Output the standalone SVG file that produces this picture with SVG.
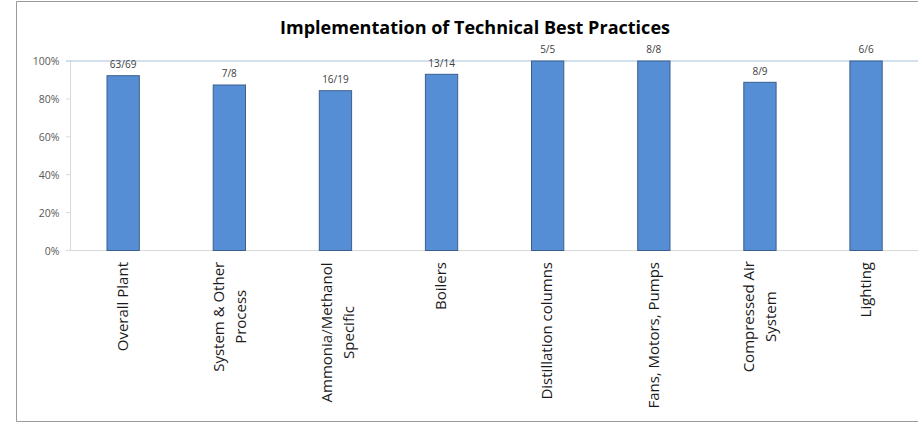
<svg xmlns="http://www.w3.org/2000/svg" width="918" height="423" viewBox="0 0 918 423">
<style>
.frame{fill:none;stroke:#9a9a9a;stroke-width:1}
.bar{fill:#558ed5;stroke:#3b5f8c;stroke-width:1}
.val{font-family:"Open Sans","Liberation Sans",sans-serif;font-size:10px;fill:#404040;text-anchor:middle}
.tick{font-family:"Open Sans","Liberation Sans",sans-serif;font-size:10.5px;fill:#595959;text-anchor:end}
.cat{font-family:"Open Sans","Liberation Sans",sans-serif;font-size:15px;fill:#1a1a1a}
.title{font-family:"Open Sans","Liberation Sans",sans-serif;font-size:18.5px;font-weight:bold;fill:#000;text-anchor:middle}
.ax{stroke:#d9d9d9;stroke-width:1;fill:none}
</style>
<rect x="0" y="0" width="918" height="423" fill="#fff"/>
<path class="frame" d="M918 1.5H16.5V421.5H918"/>
<text class="title" x="475" y="34" textLength="390" lengthAdjust="spacingAndGlyphs">Implementation of Technical Best Practices</text>
<g id="axes">
<line class="ax" x1="70.5" y1="61" x2="70.5" y2="250.5"/>
<line class="ax" x1="66" y1="250.5" x2="918" y2="250.5"/>
<line class="ax" x1="66" y1="212.6" x2="70.5" y2="212.6"/>
<line class="ax" x1="66" y1="174.7" x2="70.5" y2="174.7"/>
<line class="ax" x1="66" y1="136.8" x2="70.5" y2="136.8"/>
<line class="ax" x1="66" y1="98.9" x2="70.5" y2="98.9"/>
<line x1="66" y1="61" x2="918" y2="61" stroke="#a9c0de" stroke-width="1"/>
<text class="tick" x="59.5" y="65">100%</text>
<text class="tick" x="59.5" y="103">80%</text>
<text class="tick" x="59.5" y="141">60%</text>
<text class="tick" x="59.5" y="179">40%</text>
<text class="tick" x="59.5" y="217">20%</text>
<text class="tick" x="59.5" y="254.5">0%</text>
</g>
<g id="bar-overall">
<rect class="bar" x="107" y="75.7" width="32.3" height="174.8"/>
<text class="val" x="123.1" y="68">63/69</text>
<text class="cat" transform="translate(127.8,262) rotate(-90)" text-anchor="end">Overall Plant</text>
</g>
<g id="bar-system">
<rect class="bar" x="213.2" y="85" width="32.3" height="165.5"/>
<text class="val" x="229.3" y="77.3">7/8</text>
<text class="cat" transform="translate(223.6,316.8) rotate(-90)" text-anchor="middle">System &amp; Other</text>
<text class="cat" transform="translate(245.6,316.8) rotate(-90)" text-anchor="middle">Process</text>
</g>
<g id="bar-ammonia">
<rect class="bar" x="319.3" y="90.7" width="32.3" height="159.8"/>
<text class="val" x="335.4" y="83">16/19</text>
<text class="cat" transform="translate(331.8,332.5) rotate(-90)" text-anchor="middle">Ammonia/Methanol</text>
<text class="cat" transform="translate(353.8,332.5) rotate(-90)" text-anchor="middle">Specific</text>
</g>
<g id="bar-boilers">
<rect class="bar" x="425.4" y="74.3" width="32.3" height="176.2"/>
<text class="val" x="441.6" y="66.6">13/14</text>
<text class="cat" transform="translate(446.3,262) rotate(-90)" text-anchor="end">Boilers</text>
</g>
<g id="bar-distillation">
<rect class="bar" x="531.5" y="61" width="32.3" height="189.5"/>
<text class="val" x="547.7" y="53.3">5/5</text>
<text class="cat" transform="translate(552.4,262) rotate(-90)" text-anchor="end">Distillation columns</text>
</g>
<g id="bar-fans">
<rect class="bar" x="637.7" y="61" width="32.3" height="189.5"/>
<text class="val" x="653.8" y="53.3">8/8</text>
<text class="cat" transform="translate(658.5,262) rotate(-90)" text-anchor="end">Fans, Motors, Pumps</text>
</g>
<g id="bar-compressed">
<rect class="bar" x="743.8" y="82.3" width="32.3" height="168.2"/>
<text class="val" x="760" y="74.6">8/9</text>
<text class="cat" transform="translate(754.2,316.7) rotate(-90)" text-anchor="middle">Compressed Air</text>
<text class="cat" transform="translate(776.2,316.7) rotate(-90)" text-anchor="middle">System</text>
</g>
<g id="bar-lighting">
<rect class="bar" x="849.9" y="61" width="32.3" height="189.5"/>
<text class="val" x="866.1" y="53.3">6/6</text>
<text class="cat" transform="translate(870.8,262) rotate(-90)" text-anchor="end">Lighting</text>
</g>
</svg>
